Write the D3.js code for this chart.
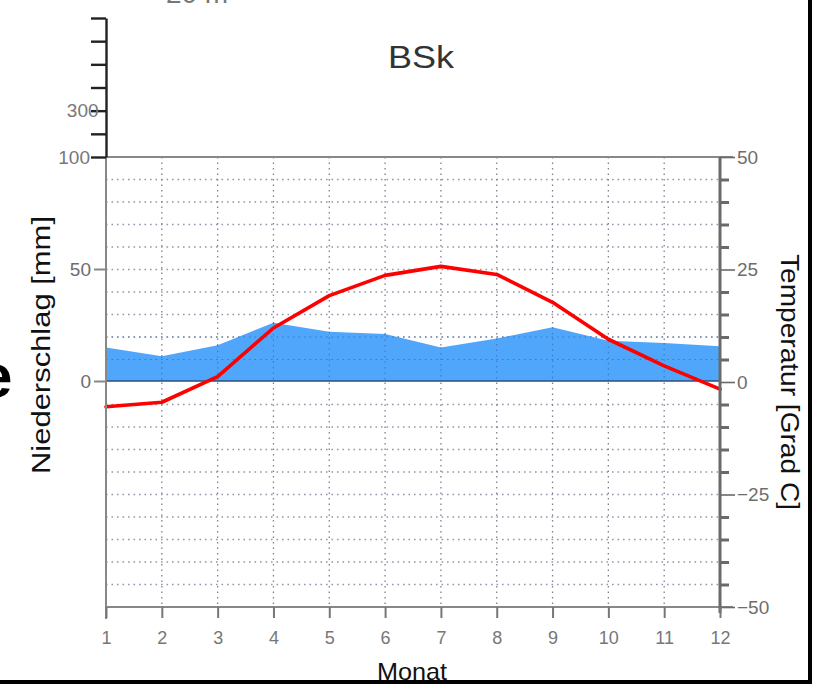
<!DOCTYPE html>
<html>
<head>
<meta charset="utf-8">
<script src="https://cdn.jsdelivr.net/npm/d3@7"></script>
<style>
  html, body { margin: 0; padding: 0; background: #fff; }
  svg { display: block; }
</style>
</head>
<body>
<svg id="chart" width="821" height="684"></svg>
<script>
// ---- data ----
const months = [1, 2, 3, 4, 5, 6, 7, 8, 9, 10, 11, 12];
const precipitation = [15, 11, 16, 26, 22, 21, 15, 19, 24, 18, 17, 15.5]; // mm
const temperature = [-5.5, -4.5, 1.2, 12, 19.2, 23.7, 25.7, 23.9, 17.7, 9.5, 3.6, -1.6]; // °C
const precipTicks = [0, 50];
const upperPrecipTicks = [100, 200, 300, 400, 500, 600, 700];
const upperPrecipLabels = [100, 300];
const tempTicks = d3.range(-50, 51, 5);
const tempLabels = [-50, -25, 0, 25, 50];
const climateClass = "BSk";

// ---- layout ----
const svg = d3.select("#chart");
const font = "'Liberation Sans', Arial, sans-serif";
const x = d3.scaleLinear().domain([1, 12]).range([106, 720]);
const yP = d3.scaleLinear().domain([0, 100]).range([381, 157]);
const yT = d3.scaleLinear().domain([-50, 50]).range([607, 157]);
const yUp = d3.scaleLinear().domain([100, 700]).range([157, 18]);

const dash = "1.6,3.9";

// grid
const grid = svg.append("g");
tempTicks.filter(t => t > -50 && t < 50 && t !== 0).forEach(t => {
  grid.append("line").attr("x1", x(1)).attr("x2", x(12))
    .attr("y1", yT(t)).attr("y2", yT(t))
    .attr("stroke", "#8e98ae").attr("stroke-width", 1.3)
    .attr("stroke-dasharray", dash);
});
months.slice(1, 11).forEach(m => {
  grid.append("line").attr("x1", x(m)).attr("x2", x(m))
    .attr("y1", yT(50)).attr("y2", yT(-50))
    .attr("stroke", "#80808e").attr("stroke-width", 1.3)
    .attr("stroke-dasharray", dash);
});

// precipitation area
const area = d3.area()
  .x((d, i) => x(months[i]))
  .y0(yP(0))
  .y1(d => yP(d));
svg.append("path").datum(precipitation)
  .attr("d", area).attr("fill", "#50a6fa");

// grid faintly visible through the area
months.slice(1, 11).forEach((m, i) => {
  svg.append("line").attr("x1", x(m)).attr("x2", x(m))
    .attr("y1", yP(precipitation[i + 1])).attr("y2", yP(0))
    .attr("stroke", "#2f5f9a").attr("stroke-width", 1.1)
    .attr("stroke-dasharray", dash).attr("opacity", 0.6);
});
[5, 10].forEach(t => {
  svg.append("line").attr("x1", x(1)).attr("x2", x(12))
    .attr("y1", yT(t)).attr("y2", yT(t))
    .attr("stroke", "#2f5f9a").attr("stroke-width", 1.1)
    .attr("stroke-dasharray", dash).attr("opacity", 0.6);
});

// zero line
svg.append("line").attr("x1", x(1)).attr("x2", x(12))
  .attr("y1", yP(0)).attr("y2", yP(0))
  .attr("stroke", "#2d4f7c").attr("stroke-width", 1.6);

// frame top/bottom
svg.append("line").attr("x1", x(1)).attr("x2", x(12) + 13)
  .attr("y1", yT(50)).attr("y2", yT(50)).attr("stroke", "#888").attr("stroke-width", 2.2);
svg.append("line").attr("x1", x(1)).attr("x2", x(12) + 13)
  .attr("y1", yT(-50)).attr("y2", yT(-50)).attr("stroke", "#888").attr("stroke-width", 2.2);

// temperature line
const line = d3.line().x((d, i) => x(months[i])).y(d => yT(d));
svg.append("path").datum(temperature)
  .attr("d", line).attr("fill", "none")
  .attr("stroke", "#ff0000").attr("stroke-width", 3.6)
  .attr("stroke-linejoin", "round").attr("stroke-linecap", "round");

function styleAxis(g, color, width, fontSize) {
  g.attr("font-size", null).attr("font-family", null);
  g.select(".domain").attr("stroke", color).attr("stroke-width", width);
  g.selectAll(".tick line").attr("stroke", color).attr("stroke-width", width);
  g.selectAll(".tick text").attr("fill", "#6e6e6e").style("font-family", font)
    .style("font-size", fontSize + "px");
}

// left lower axis
const gL = svg.append("g").attr("transform", `translate(${x(1)},0)`)
  .call(d3.axisLeft(yP).tickValues(precipTicks).tickSize(12).tickPadding(3).tickSizeOuter(0));
gL.select(".domain").remove();
styleAxis(gL, "#888", 2, 19);
svg.append("line").attr("x1", x(1)).attr("x2", x(1))
  .attr("y1", yT(50)).attr("y2", yT(-50) + 12).attr("stroke", "#888").attr("stroke-width", 2);

// left upper axis
const gU = svg.append("g").attr("transform", `translate(${x(1)},0)`)
  .call(d3.axisLeft(yUp).tickValues(upperPrecipTicks).tickSize(15).tickPadding(1).tickSizeOuter(0)
    .tickFormat(d => upperPrecipLabels.includes(d) ? d : ""));
styleAxis(gU, "#222", 2.4, 19);
gU.selectAll(".tick text").attr("fill", "#777").attr("dx", "0.45em");
gU.selectAll(".tick text").filter(d => d === 100).attr("dx", "0em");

// right axis
const gR = svg.append("g").attr("transform", `translate(${x(12)},0)`)
  .call(d3.axisRight(yT).tickValues(tempTicks).tickSize(9).tickPadding(4).tickSizeOuter(0)
    .tickFormat(d => tempLabels.includes(d) ? d3.format("")(d) : ""));
styleAxis(gR, "#6a6a6a", 3, 19);
gR.selectAll(".tick line").filter(d => tempLabels.includes(d)).attr("x2", 15).attr("stroke-width", 1.6);
gR.selectAll(".tick text").attr("x", 17);
gR.select(".domain").attr("d", `M0,${yT(50)}V${yT(-50) + 6}`);

// bottom axis
const gB = svg.append("g").attr("transform", `translate(0,${yT(-50)})`)
  .call(d3.axisBottom(x).tickValues(months).tickSize(11).tickPadding(13).tickSizeOuter(0)
    .tickFormat(d3.format("d")));
gB.select(".domain").remove();
styleAxis(gB, "#777", 2, 18);
gB.selectAll(".tick text").attr("fill", "#777");

// titles
svg.append("text").attr("x", 421).attr("y", 68).attr("text-anchor", "middle")
  .style("font-family", font).style("font-size", "31px").attr("fill", "#333")
  .attr("textLength", 66).attr("lengthAdjust", "spacingAndGlyphs")
  .text(climateClass);
svg.append("text").attr("x", 197).attr("y", 3).attr("text-anchor", "middle")
  .style("font-family", font).style("font-size", "28px").attr("fill", "#777")
  .text("20 m");

svg.append("text").attr("transform", "translate(50,345) rotate(-90)")
  .attr("text-anchor", "middle").style("font-family", font).style("font-size", "25px")
  .attr("textLength", 258).attr("lengthAdjust", "spacingAndGlyphs")
  .attr("fill", "#111").text("Niederschlag [mm]");
svg.append("text").attr("transform", "translate(781,382) rotate(90)")
  .attr("text-anchor", "middle").style("font-family", font).style("font-size", "25px")
  .attr("textLength", 256).attr("lengthAdjust", "spacingAndGlyphs")
  .attr("fill", "#111").text("Temperatur  [Grad C]");
svg.append("text").attr("x", 412).attr("y", 680).attr("text-anchor", "middle")
  .style("font-family", font).style("font-size", "24px").attr("fill", "#111")
  .attr("textLength", 70).attr("lengthAdjust", "spacingAndGlyphs").text("Monat");

// partial big letter at left edge
svg.append("text").attr("x", -22).attr("y", 397).style("font-family", font)
  .style("font-size", "62px").style("font-weight", "bold").attr("fill", "#000").text("e");

// black frame
svg.append("rect").attr("x", 0).attr("y", 680).attr("width", 812).attr("height", 4).attr("fill", "#000");
svg.append("rect").attr("x", 808).attr("y", 0).attr("width", 4).attr("height", 684).attr("fill", "#000");
</script>
</body>
</html>
